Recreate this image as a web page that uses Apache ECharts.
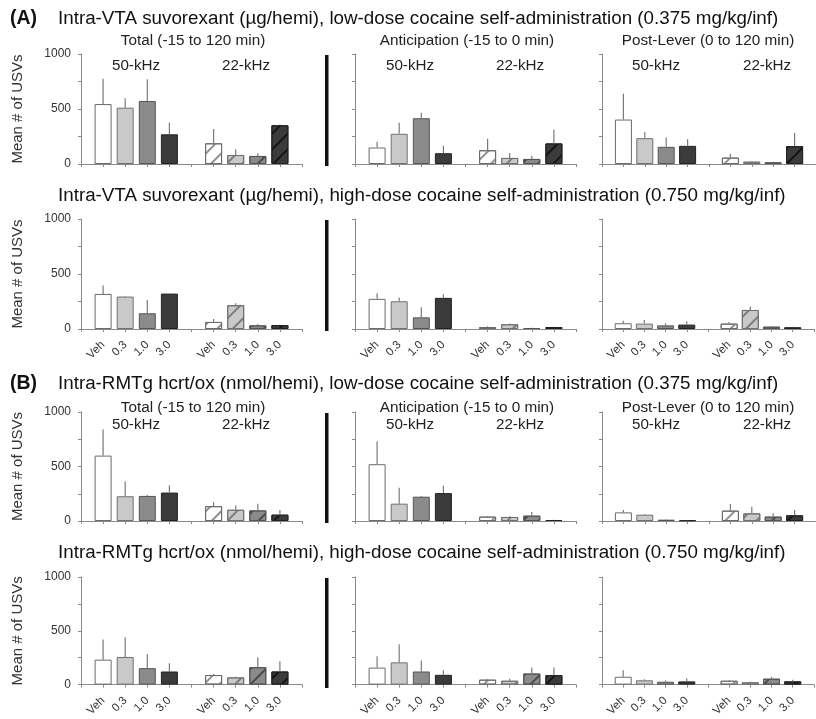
<!DOCTYPE html>
<html><head><meta charset="utf-8">
<script src="https://cdn.jsdelivr.net/npm/echarts@6/dist/echarts.min.js"></script>
<style>html,body{margin:0;padding:0;background:#fff}#c{width:816px;height:719px}</style>
</head><body><div id="c"></div>
<script>
// ---------- data ----------
const doses = ['Veh', '0.3', '1.0', '3.0'];
const xCategories = ['', 'Veh', '0.3', '1.0', '3.0', '', 'Veh', '0.3', '1.0', '3.0', ''];
const rowTitles = [
  'Intra-VTA suvorexant (\u00b5g/hemi), low-dose cocaine self-administration (0.375 mg/kg/inf)',
  'Intra-VTA suvorexant (\u00b5g/hemi), high-dose cocaine self-administration (0.750 mg/kg/inf)',
  'Intra-RMTg hcrt/ox (nmol/hemi), low-dose cocaine self-administration (0.375 mg/kg/inf)',
  'Intra-RMTg hcrt/ox (nmol/hemi), high-dose cocaine self-administration (0.750 mg/kg/inf)'
];
const rowLetters = ['(A)', '', '(B)', ''];
const panelTitles = ['Total (-15 to 120 min)', 'Anticipation (-15 to 0 min)', 'Post-Lever (0 to 120 min)'];
const freqLabels = ['50-kHz', '22-kHz'];
const yLabelValues = [0, 500, 1000];

// values: 50-kHz Veh,0.3,1.0,3.0 then 22-kHz Veh,0.3,1.0,3.0
const vtaLowTotalMean  = [545, 512, 573, 270, 188, 82, 73, 352];
const vtaLowTotalSem   = [231, 85, 197, 106, 130, 51, 24, 6];
const vtaLowAnticMean  = [150, 275, 416, 98, 125, 55, 46, 187];
const vtaLowAnticSem   = [52, 101, 49, 67, 104, 46, 30, 125];
const vtaLowPostMean   = [404, 235, 156, 165, 58, 21, 15, 162];
const vtaLowPostSem    = [235, 55, 86, 61, 34, 7, 6, 119];

const vtaHighTotalMean = [319, 295, 143, 322, 64, 216, 33, 36];
const vtaHighTotalSem  = [76, 4, 121, 3, 27, 18, 13, 3];
const vtaHighAnticMean = [274, 252, 106, 283, 18, 43, 9, 18];
const vtaHighAnticSem  = [51, 34, 92, 33, 6, 6, 3, 3];
const vtaHighPostMean  = [52, 49, 33, 40, 49, 173, 21, 15];
const vtaHighPostSem   = [24, 33, 19, 30, 15, 31, 6, 6];

const rmtgLowTotalMean = [600, 227, 230, 261, 136, 103, 97, 58];
const rmtgLowTotalSem  = [239, 137, 9, 66, 37, 39, 61, 42];
const rmtgLowAnticMean = [521, 159, 223, 256, 40, 37, 49, 9];
const rmtgLowAnticSem  = [211, 146, 6, 67, 6, 6, 33, 3];
const rmtgLowPostMean  = [79, 58, 12, 6, 95, 70, 40, 52];
const rmtgLowPostSem   = [22, 6, 3, 3, 60, 61, 30, 49];

const rmtgHighTotalMean = [232, 257, 153, 122, 89, 67, 162, 122];
const rmtgHighTotalSem  = [187, 183, 131, 77, 9, 6, 92, 95];
const rmtgHighAnticMean = [158, 207, 122, 91, 46, 36, 103, 88];
const rmtgHighAnticSem  = [106, 167, 103, 43, 6, 19, 55, 70];
const rmtgHighPostMean  = [73, 40, 27, 30, 36, 21, 55, 30];
const rmtgHighPostSem   = [61, 9, 13, 28, 7, 6, 18, 16];

const panels = [
  [[vtaLowTotalMean, vtaLowTotalSem], [vtaLowAnticMean, vtaLowAnticSem], [vtaLowPostMean, vtaLowPostSem]],
  [[vtaHighTotalMean, vtaHighTotalSem], [vtaHighAnticMean, vtaHighAnticSem], [vtaHighPostMean, vtaHighPostSem]],
  [[rmtgLowTotalMean, rmtgLowTotalSem], [rmtgLowAnticMean, rmtgLowAnticSem], [rmtgLowPostMean, rmtgLowPostSem]],
  [[rmtgHighTotalMean, rmtgHighTotalSem], [rmtgHighAnticMean, rmtgHighAnticSem], [rmtgHighPostMean, rmtgHighPostSem]]
];

// ---------- layout & style ----------
const rowTops = [54, 219, 412, 577];
const rowHeights = [110, 110, 109, 109];
const colLefts = [81, 355, 602];
const gridWidth = 221;
const titleY = [19, 196, 384, 553];
const subtitleY = {0: 41, 2: 408};
const freqY = {0: 66, 2: 425};
const subtitleX = [193, 467, 708];
const freqX = [[136, 246], [410, 520], [656, 767]];
const showXLabels = [false, true, false, true];

const fills   = ['#ffffff', '#c8cac7', '#8b8b8b', '#3b3b3b'];
const borders = ['#6a6a6a', '#707070', '#555555', '#222222'];
const hatches = ['#909090', '#7c7c7c', '#4a4a4a', '#141414'];
const FONT = 'Liberation Sans, Arial, sans-serif';

const grids = [], xAxes = [], yAxes = [], series = [], graphics = [];
const slotOf = i => (i < 4 ? 1 + i : 2 + i);

panels.forEach((row, r) => {
  row.forEach((pd, c) => {
    const g = r * 3 + c;
    const mean = pd[0], sem = pd[1];
    grids.push({left: colLefts[c], top: rowTops[r], width: gridWidth, height: rowHeights[r]});
    xAxes.push({
      gridIndex: g, type: 'category', data: xCategories, boundaryGap: false,
      axisLine: {lineStyle: {color: '#8a8a8a', width: 1}},
      axisTick: {show: true, interval: 0, length: 3, lineStyle: {color: '#8a8a8a'}},
      axisLabel: {show: showXLabels[r], interval: 0, rotate: 45, fontSize: 11.5, color: '#333', margin: 14, fontFamily: FONT}
    });
    yAxes.push({
      gridIndex: g, type: 'value', min: 0, max: 1000, interval: 250,
      axisLine: {show: true, lineStyle: {color: '#8a8a8a', width: 1}},
      axisTick: {show: true, length: 3, lineStyle: {color: '#8a8a8a'}},
      splitLine: {show: false},
      axisLabel: {show: c === 0, fontSize: 12, color: '#333', margin: 10, fontFamily: FONT,
        formatter: v => (yLabelValues.indexOf(v) >= 0 ? String(v) : '')},
      name: c === 0 ? 'Mean # of USVs' : '', nameLocation: 'middle', nameGap: 56,
      nameTextStyle: {fontSize: 15, color: '#333', fontFamily: FONT}
    });
    const barData = xCategories.map(() => null);
    mean.forEach((v, i) => {
      const d = i % 4, hatched = i >= 4;
      const item = {value: v, itemStyle: {color: fills[d], borderColor: borders[d], borderWidth: 1}};
      if (hatched) {
        item.itemStyle.decal = {symbol: 'rect', symbolSize: 1, dashArrayX: [1, 0], dashArrayY: [1.3, 8.5],
          rotation: -Math.PI / 4, color: hatches[d]};
      }
      barData[slotOf(i)] = item;
    });
    series.push({type: 'bar', xAxisIndex: g, yAxisIndex: g, data: barData, barWidth: 17, silent: true, z: 2});
    series.push({
      type: 'custom', xAxisIndex: g, yAxisIndex: g, silent: true, z: 3,
      data: mean.map((v, i) => [slotOf(i), v, sem[i]]),
      encode: {x: 0, y: 1},
      renderItem: (params, api) => {
        const x = api.value(0), m = api.value(1), s = api.value(2);
        const p0 = api.coord([x, m]), p1 = api.coord([x, m + s]);
        return {type: 'line', shape: {x1: p0[0], y1: p0[1], x2: p1[0], y2: p1[1]},
          style: {stroke: '#7a7a7a', lineWidth: 1.2}};
      }
    });
  });
  // titles
  if (rowLetters[r]) {
    graphics.push({type: 'text', x: 10, y: titleY[r], style: {text: rowLetters[r], font: 'bold 19.5px ' + FONT,
      fill: '#111', textVerticalAlign: 'middle'}});
  }
  graphics.push({type: 'text', x: 58, y: titleY[r], style: {text: rowTitles[r], font: '18.8px ' + FONT,
    fill: '#111', textVerticalAlign: 'middle'}});
  if (subtitleY[r] !== undefined) {
    panelTitles.forEach((t, c) => {
      graphics.push({type: 'text', x: subtitleX[c], y: subtitleY[r], style: {text: t, font: '15.3px ' + FONT,
        fill: '#222', textAlign: 'center', textVerticalAlign: 'middle'}});
      freqLabels.forEach((f, k) => {
        graphics.push({type: 'text', x: freqX[c][k], y: freqY[r], style: {text: f, font: '15.2px ' + FONT,
          fill: '#222', textAlign: 'center', textVerticalAlign: 'middle'}});
      });
    });
  }
  // thick separator between first and second panel
  graphics.push({type: 'rect', shape: {x: 325, y: rowTops[r] + 1, width: 3.5, height: rowHeights[r] + 1},
    style: {fill: '#111'}});
});

const chart = echarts.init(document.getElementById('c'), null, {renderer: 'canvas'});
chart.setOption({
  backgroundColor: '#ffffff',
  animation: false,
  textStyle: {fontFamily: FONT},
  grid: grids, xAxis: xAxes, yAxis: yAxes, series: series, graphic: graphics
});
</script></body></html>
